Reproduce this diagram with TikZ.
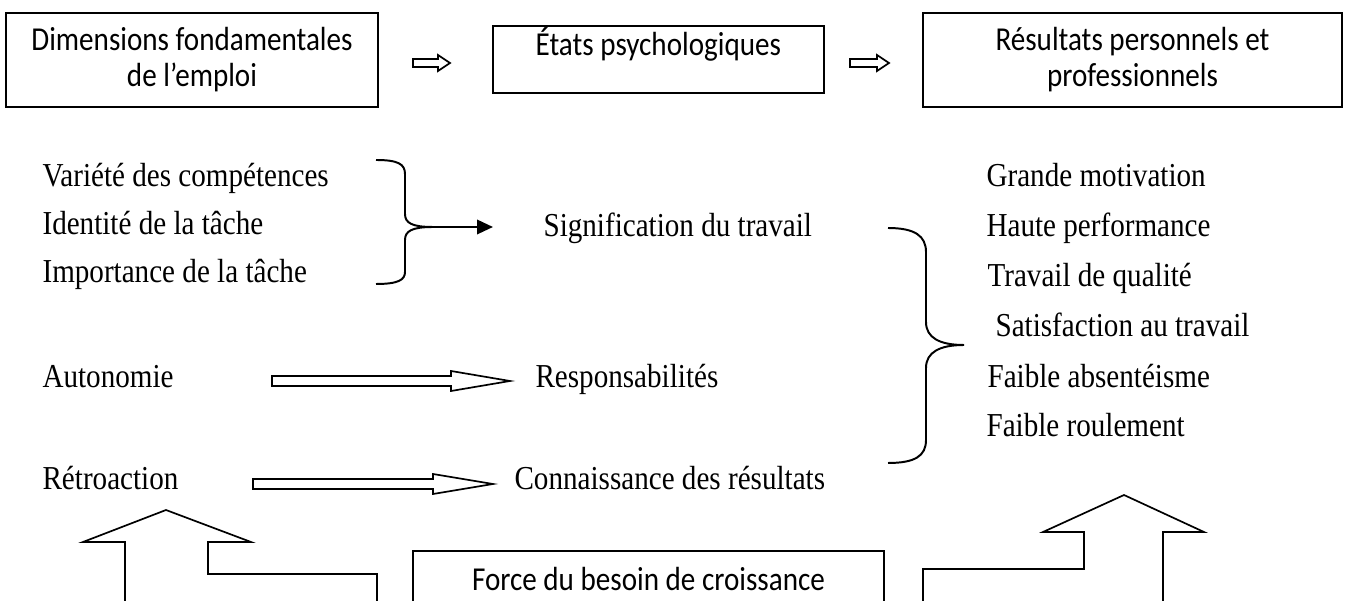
\documentclass[tikz,border=0pt]{standalone}
\usepackage{fontspec}
\setmainfont[FakeStretch=0.87]{Liberation Serif}
\newfontfamily\boxfont[FakeStretch=0.87]{Carlito}
\usetikzlibrary{arrows.meta,calc}
\newcommand{\pxl}{0.0125cm}
\tikzset{
  box/.style={draw,line width=0.6pt,inner sep=0pt,align=center,
              font=\boxfont\fontsize{11.9pt}{12.8pt}\selectfont},
  lbl/.style={anchor=base west,inner sep=0pt,
              font=\fontsize{11.9pt}{14pt}\selectfont},
  blk/.style={draw,line width=0.6pt,line join=miter},
  brace/.style={line width=0.7pt},
  ptr/.style={-{Triangle[length=2mm,width=1.8mm]},line width=0.8pt},
}
% hollow block arrow: from, tip, shaft half, head half, head length
\newcommand{\blockarr}[5]{%
  \draw[blk] ($(#1)+(0,#3)$) -- ($(#2)+(-#5,#3)$) -- ($(#2)+(-#5,#4)$)
    -- (#2) -- ($(#2)+(-#5,-#4)$) -- ($(#2)+(-#5,-#3)$)
    -- ($(#1)+(0,-#3)$) -- cycle;}

\begin{document}
\begin{tikzpicture}[x=\pxl,y=-\pxl]
  \useasboundingbox (0,0) rectangle (1349,601);
  \clip (0,0) rectangle (1349,601);
  % top row
  \node[box,minimum width=372*\pxl,minimum height=94*\pxl] (dim) at (192,60)
    {Dimensions fondamentales\\de l’emploi};
  \node[box,anchor=north west,minimum width=331*\pxl,
        text height=30*\pxl,text depth=37*\pxl] (etat) at (492,25)
    {États psychologiques};
  \node[box,minimum width=419*\pxl,minimum height=94*\pxl] (res) at (1132.5,60)
    {Résultats personnels et\\professionnels};
  \coordinate (t1a) at (413,63); \coordinate (t1b) at (450,63);
  \coordinate (t2a) at (850,63); \coordinate (t2b) at (889,63);
  \blockarr{t1a}{t1b}{4}{8}{12}
  \blockarr{t2a}{t2b}{4}{8}{12}
  % job dimensions
  \node[lbl] (var) at (42,187) {Variété des compétences};
  \node[lbl] (iden) at (42,235) {Identité de la tâche};
  \node[lbl] (impo) at (42,283) {Importance de la tâche};
  \node[lbl] (auto) at (42,388) {Autonomie};
  \node[lbl] (retro) at (42,490) {Rétroaction};
  % psychological states
  \node[lbl] (signif) at (543,237) {Signification du travail};
  \node[lbl] (resp) at (535,388) {Responsabilités};
  \node[lbl] (conn) at (514,490) {Connaissance des résultats};
  % outcomes
  \foreach \n/\x/\y/\t in {r1/986/187/Grande motivation,
      r2/986/237/Haute performance, r3/987/287/Travail de qualité,
      r4/995/337/Satisfaction au travail, r5/987/388/Faible absentéisme,
      r6/986/437/Faible roulement}{
    \node[lbl] (\n) at (\x,\y) {\t};
  }
  % brace of the three first dimensions
  \coordinate (b1) at (433,227);
  \coordinate (b1e) at (493,227);
  \draw[brace] (376,160) .. controls (398,160) and (405,164) .. (405,174)
    -- (405,214) .. controls (405,223) and (412,227) .. (b1)
    .. controls (412,227) and (405,231) .. (405,240)
    -- (405,272) .. controls (405,280) and (398,284) .. (376,284);
  \draw[ptr] (b1) -- (b1e);
  % brace of the states
  \draw[brace] (888,228) .. controls (915,228) and (926,236) .. (926,252)
    -- (926,322) .. controls (926,338) and (940,345) .. (964,345)
    .. controls (940,345) and (926,352) .. (926,368)
    -- (926,440) .. controls (926,456) and (915,463) .. (888,463);
  % autonomy and feedback
  \coordinate (a1) at (272,381); \coordinate (a1e) at (510,381);
  \coordinate (a2) at (253,484); \coordinate (a2e) at (493,484);
  \blockarr{a1}{a1e}{5}{10}{59}
  \blockarr{a2}{a2e}{5}{10}{60}
  % growth need strength
  \node[box,anchor=north,minimum width=471*\pxl,minimum height=56*\pxl]
    (force) at (648.5,550) {Force du besoin de croissance};
  \draw[blk] (125,610) -- (125,542) -- (83,542) -- (166,510) -- (251,542)
    -- (208,542) -- (208,574) -- (377,574) -- (377,610);
  \draw[blk] (923,610) -- (923,569) -- (1084,569) -- (1084,532) -- (1043,532)
    -- (1124,495) -- (1204,532) -- (1163,532) -- (1163,610);
\end{tikzpicture}
\end{document}
